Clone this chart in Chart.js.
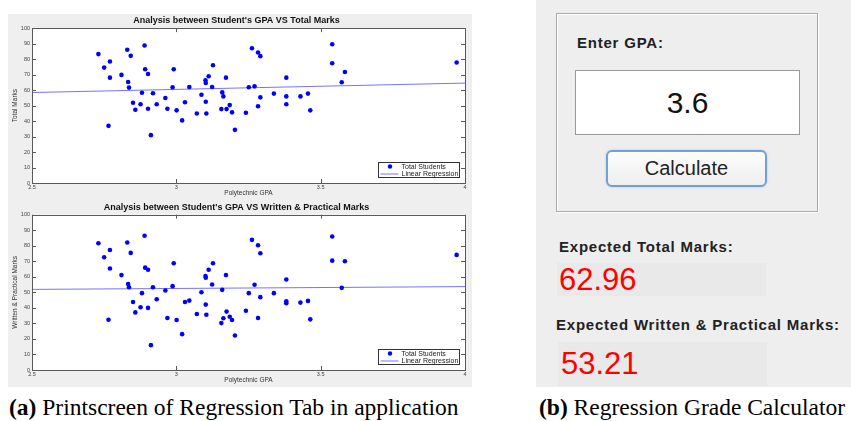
<!DOCTYPE html>
<html>
<head>
<meta charset="utf-8">
<script src="https://cdn.jsdelivr.net/npm/chart.js@4.4.1/dist/chart.umd.min.js"></script>
<style>
  body { margin: 0; width: 851px; height: 421px; background: #fff; position: relative; overflow: hidden;
         font-family: "Liberation Sans", Arial, sans-serif; }
  #left { position: absolute; left: 8px; top: 14px; width: 464px; height: 373px; background: #efefef; }
  #left canvas { position: absolute; left: 0; }
  .caption { position: absolute; top: 394px; font-family: "Liberation Serif", "Times New Roman", serif;
             font-size: 23.5px; color: #000; white-space: nowrap; }
  #right { position: absolute; left: 536px; top: 0; width: 315px; height: 387px; background: #eeeeee; }
  #group { position: absolute; left: 20px; top: 13px; width: 260px; height: 197px;
           border: 1px solid #aaa; box-shadow: inset 1px 1px 0 #fff, 1px 1px 0 #fff; }
  .lbl { position: absolute; font-weight: bold; font-size: 15px; color: #222; letter-spacing: 0.78px; white-space: nowrap; }
  #gpaBox { position: absolute; left: 39px; top: 70px; width: 223px; height: 63px; background: #fff;
            border: 1px solid #999; font-size: 30px; text-align: center; line-height: 63px; color: #111; }
  #calc { position: absolute; left: 70px; top: 150px; width: 157px; height: 33px; border: 2px solid #6fa0d8;
          border-radius: 6px; background: linear-gradient(#fdfdfd, #eeeeee); font-size: 20px; text-align: center;
          line-height: 33px; color: #222; box-shadow: 0 0 2px #9cc0ea; }
  .val { position: absolute; background: #e9e9e9; color: #ff0000; font-size: 31px; white-space: nowrap; }
</style>
</head>
<body>
<div id="left">
  <canvas id="chartTotal" width="464" height="186" style="top:0"></canvas>
  <canvas id="chartWritten" width="464" height="187" style="top:186px"></canvas>
</div>
<div class="caption" style="left:9px"><b>(a)</b> Printscreen of Regression Tab in application</div>

<div id="right">
  <div id="group"></div>
  <div class="lbl" style="left:41px; top:34px;">Enter GPA:</div>
  <div id="gpaBox">3.6</div>
  <div id="calc">Calculate</div>
  <div class="lbl" style="left:23px; top:238px;">Expected Total Marks:</div>
  <div class="val" style="left:21px; top:263px; width:207px; height:33px; line-height:33px; padding-left:2px;">62.96</div>
  <div class="lbl" style="left:20px; top:316px;">Expected Written &amp; Practical Marks:</div>
  <div class="val" style="left:22px; top:342px; width:206px; height:44px; line-height:44px; padding-left:3px;">53.21</div>
</div>
<div class="caption" style="left:539px"><b>(b)</b> Regression Grade Calculator</div>

<script>
// GPA of each student (same students in both plots)
const gpa = [2.73, 2.75, 2.77, 2.77, 2.765, 2.81, 2.83, 2.842, 2.833, 2.836,
  2.85, 2.858, 2.876, 2.881, 2.89, 2.892, 2.902, 2.902, 2.912, 2.919,
  2.932, 2.962, 2.969, 2.987, 2.991, 3.001, 3.02, 3.03, 3.045, 3.071,
  3.087, 3.101, 3.102, 3.102, 3.104, 3.112, 3.124, 3.127, 3.156, 3.159,
  3.163, 3.172, 3.174, 3.185, 3.193, 3.203, 3.241, 3.251, 3.262, 3.271,
  3.283, 3.283, 3.291, 3.291, 3.338, 3.381, 3.381, 3.381, 3.43, 3.456,
  3.464, 3.54, 3.54, 3.573, 3.584, 3.971];

const totalMarks = [83.2, 74.5, 78.4, 68.0, 36.9, 69.8, 86.0, 82.1, 65.2, 61.6,
  51.8, 47.3, 50.8, 58.3, 88.8, 73.4, 70.4, 47.9, 30.9, 57.9,
  50.8, 54.9, 47.9, 61.8, 73.4, 46.9, 40.4, 52.1, 62.0, 44.9,
  57.0, 66.3, 64.6, 52.5, 44.9, 68.9, 62.0, 76.0, 47.7, 58.5,
  55.9, 68.0, 47.7, 50.3, 45.6, 34.3, 45.4, 61.8, 87.0, 62.4,
  84.2, 49.5, 81.9, 55.3, 57.7, 68.0, 55.9, 50.8, 55.9, 57.7,
  46.9, 89.6, 77.3, 65.0, 71.7, 77.8];

const writtenMarks = [81.6, 72.6, 77.3, 65.4, 32.4, 61.1, 82.1, 75.4, 55.3, 53.3,
  43.8, 37.1, 40.4, 49.5, 86.4, 65.9, 64.6, 40.0, 16.0, 53.3,
  45.6, 51.2, 33.5, 54.0, 68.7, 32.2, 23.1, 43.8, 44.7, 36.1,
  50.1, 60.5, 59.4, 42.1, 35.6, 64.6, 55.1, 68.7, 30.2, 51.6,
  33.3, 61.1, 37.6, 34.3, 32.2, 22.2, 38.2, 49.5, 83.8, 54.9,
  80.3, 33.5, 75.2, 46.9, 49.5, 58.3, 44.3, 43.0, 43.4, 44.5,
  32.6, 86.0, 70.4, 52.9, 70.0, 74.1];

// regression line end points (GPA 2.5 and 4)
const lineGpa = [2.5, 4];
const totalLine = [58.4, 64.5];
const writtenLine = [51.9, 53.7];

const xTicks = [2.5, 3, 3.5, 4];
const yTicks = [0, 10, 20, 30, 40, 50, 60, 70, 80, 90, 100];

// white plot background
const whiteArea = {
  id: 'whiteArea',
  beforeDatasetsDraw(chart) {
    const a = chart.chartArea;
    chart.ctx.save();
    chart.ctx.fillStyle = '#fff';
    chart.ctx.fillRect(a.left, a.top, a.right - a.left, a.bottom - a.top);
    chart.ctx.restore();
  }
};

// MATLAB style box, inward ticks and legend inside the axes
const matlabAxes = {
  id: 'matlabAxes',
  afterDatasetsDraw(chart) {
    const ctx = chart.ctx;
    const a = chart.chartArea;
    const xs = chart.scales.x, ys = chart.scales.y;
    ctx.save();
    ctx.strokeStyle = '#5a5a5a';
    ctx.lineWidth = 1;
    ctx.beginPath();
    xTicks.forEach(v => {
      const px = Math.round(xs.getPixelForValue(v)) + 0.5;
      ctx.moveTo(px, a.bottom); ctx.lineTo(px, a.bottom - 4);
      ctx.moveTo(px, a.top); ctx.lineTo(px, a.top + 4);
    });
    yTicks.forEach(v => {
      const py = Math.round(ys.getPixelForValue(v)) + 0.5;
      ctx.moveTo(a.left, py); ctx.lineTo(a.left + 4, py);
      ctx.moveTo(a.right, py); ctx.lineTo(a.right - 4, py);
    });
    ctx.stroke();
    ctx.strokeRect(Math.round(a.left) + 0.5, Math.round(a.top) + 0.5,
      Math.round(a.right - a.left), Math.round(a.bottom - a.top));

    // legend
    const w = 81, h = 15;
    const bx = Math.round(a.right - 6 - w) + 0.5, by = Math.round(a.bottom - 6 - h) + 0.5;
    ctx.fillStyle = '#fff';
    ctx.fillRect(bx, by, w, h);
    ctx.strokeStyle = '#333';
    ctx.strokeRect(bx, by, w, h);
    const ds = chart.data.datasets;
    ctx.font = '7px "Liberation Sans", Arial, sans-serif';
    ctx.textBaseline = 'middle';
    ctx.fillStyle = '#0000ff';
    ctx.beginPath();
    ctx.arc(bx + 11.5, by + 4, 2.2, 0, Math.PI * 2);
    ctx.fill();
    ctx.strokeStyle = ds[1].borderColor;
    ctx.beginPath();
    ctx.moveTo(bx + 2, by + 11.5); ctx.lineTo(bx + 20, by + 11.5);
    ctx.stroke();
    ctx.fillStyle = '#222';
    ctx.fillText(ds[0].label, bx + 23, by + 4.3);
    ctx.fillText(ds[1].label, bx + 23, by + 11.3);
    ctx.restore();
  }
};

function makeChart(id, title, yTitle, values, lineValues, titlePad) {
  const points = gpa.map((g, i) => ({ x: g, y: values[i] }));
  const line = lineGpa.map((g, i) => ({ x: g, y: lineValues[i] }));
  const canvas = document.getElementById(id);
  return new Chart(canvas, {
    type: 'scatter',
    data: {
      datasets: [{
        label: 'Total Students',
        data: points,
        pointRadius: 2.3,
        pointBackgroundColor: '#0000ff',
        pointBorderWidth: 0,
        borderColor: '#0000ff'
      }, {
        type: 'line',
        label: 'Linear Regression',
        data: line,
        borderColor: '#7474ff',
        borderWidth: 1,
        pointRadius: 0,
        fill: false
      }]
    },
    options: {
      responsive: false,
      animation: false,
      events: [],
      layout: { padding: { left: 0, right: 7, top: 0, bottom: 0 } },
      plugins: {
        legend: { display: false },
        tooltip: { enabled: false },
        title: {
          display: true,
          text: title,
          color: '#111',
          font: { family: '"Liberation Sans", Arial, sans-serif', size: 9, weight: 'bold' },
          padding: titlePad
        }
      },
      scales: {
        x: {
          type: 'linear', min: 2.5, max: 4,
          afterBuildTicks: s => { s.ticks = xTicks.map(v => ({ value: v })); },
          afterFit: s => { s.height = 17; },
          ticks: {
            color: '#444', padding: 1.5,
            font: { family: '"Liberation Sans", Arial, sans-serif', size: 5.5 },
            callback: v => String(v), maxRotation: 0
          },
          grid: { display: false, drawTicks: false },
          border: { display: false },
          title: {
            display: true, text: 'Polytechnic GPA', color: '#333',
            font: { family: '"Liberation Sans", Arial, sans-serif', size: 6.5 },
            padding: { top: 0, bottom: 2.8 }
          }
        },
        y: {
          type: 'linear', min: 0, max: 100,
          afterBuildTicks: s => { s.ticks = yTicks.map(v => ({ value: v })); },
          afterFit: s => { s.width = 24; },
          ticks: {
            color: '#444', padding: 2,
            font: { family: '"Liberation Sans", Arial, sans-serif', size: 5.5 }
          },
          grid: { display: false, drawTicks: false },
          border: { display: false },
          title: {
            display: true, text: yTitle, color: '#333',
            font: { family: '"Liberation Sans", Arial, sans-serif', size: 6.5 },
            padding: { top: 3, bottom: 0 }
          }
        }
      }
    },
    plugins: [whiteArea, matlabAxes]
  });
}

makeChart('chartTotal', "Analysis between Student's GPA VS Total Marks", 'Total Marks',
  totalMarks, totalLine, { top: 1.3, bottom: 2 });
makeChart('chartWritten', "Analysis between Student's GPA VS Written & Practical Marks", 'Written & Practical Marks',
  writtenMarks, writtenLine, { top: 2.3, bottom: 1.6 });
</script>
</body>
</html>
